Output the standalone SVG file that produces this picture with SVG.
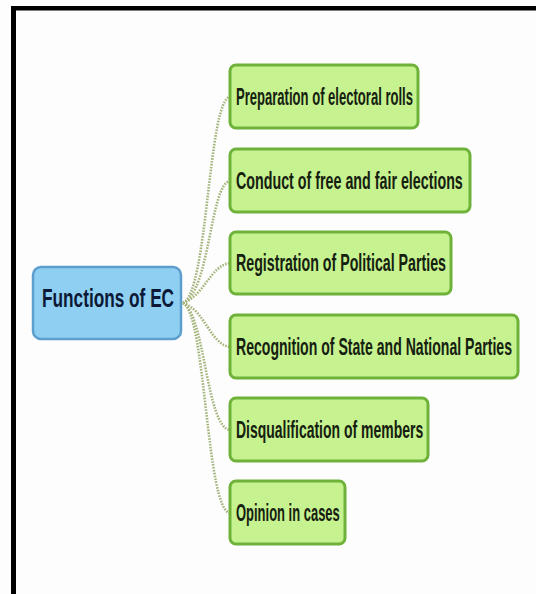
<svg xmlns="http://www.w3.org/2000/svg" width="536" height="594" viewBox="0 0 536 594">
  <style>
    .leaf rect { fill: #c6f290; stroke: #6fb23a; stroke-width: 3; }
    .leaf text { font-family: "Liberation Sans", Arial, sans-serif; font-weight: bold; font-size: 23px; fill: #15200f; }
    .root rect { fill: #8fcff2; stroke: #5c9fcf; stroke-width: 2.5; }
    .root text { font-family: "Liberation Sans", Arial, sans-serif; font-weight: bold; font-size: 26px; fill: #0b1836; }
    .conn path { fill: none; stroke: #a4b57c; stroke-width: 2.6; stroke-dasharray: 1.6 1.3; }
  </style>
  <rect x="0" y="0" width="536" height="594" fill="#fdfdfd"/>
  <rect x="11" y="6" width="525" height="4.5" fill="#000"/>
  <rect x="11" y="6" width="5" height="588" fill="#000"/>

  <g id="connectors" class="conn">
    <path d="M183,303 C208,292 208,100 230,97"/>
    <path d="M183,303 C210,292 210,184 230,181"/>
    <path d="M183,303 C205,295 210,266 230,263"/>
    <path d="M183,303 C205,310 210,344 230,347"/>
    <path d="M183,303 C205,314 206,427 230,430"/>
    <path d="M183,303 C206,314 206,510 230,513"/>
  </g>

  <g id="root" class="root">
    <rect x="33" y="267" width="148" height="72" rx="8"/>
    <text transform="translate(42,307) scale(0.62,1)" x="0" y="0" textLength="213" lengthAdjust="spacingAndGlyphs">Functions of EC</text>
  </g>

  <g id="n1" class="leaf">
    <rect x="230" y="65" width="188" height="63" rx="6"/>
    <text transform="translate(236,105) scale(0.6,1)" x="0" y="0" textLength="295" lengthAdjust="spacingAndGlyphs">Preparation of electoral rolls</text>
  </g>
  <g id="n2" class="leaf">
    <rect x="230" y="149" width="240" height="63" rx="6"/>
    <text transform="translate(236,189) scale(0.6,1)" x="0" y="0" textLength="378" lengthAdjust="spacingAndGlyphs">Conduct of free and fair elections</text>
  </g>
  <g id="n3" class="leaf">
    <rect x="230" y="232" width="221" height="62" rx="6"/>
    <text transform="translate(236,271) scale(0.6,1)" x="0" y="0" textLength="350" lengthAdjust="spacingAndGlyphs">Registration of Political Parties</text>
  </g>
  <g id="n4" class="leaf">
    <rect x="230" y="315" width="288" height="63" rx="6"/>
    <text transform="translate(236,355) scale(0.6,1)" x="0" y="0" textLength="460" lengthAdjust="spacingAndGlyphs">Recognition of State and National Parties</text>
  </g>
  <g id="n5" class="leaf">
    <rect x="230" y="398" width="198" height="63" rx="6"/>
    <text transform="translate(236,438) scale(0.6,1)" x="0" y="0" textLength="312" lengthAdjust="spacingAndGlyphs">Disqualification of members</text>
  </g>
  <g id="n6" class="leaf">
    <rect x="230" y="481" width="115" height="63" rx="6"/>
    <text transform="translate(236,521) scale(0.6,1)" x="0" y="0" textLength="173" lengthAdjust="spacingAndGlyphs">Opinion in cases</text>
  </g>
</svg>
